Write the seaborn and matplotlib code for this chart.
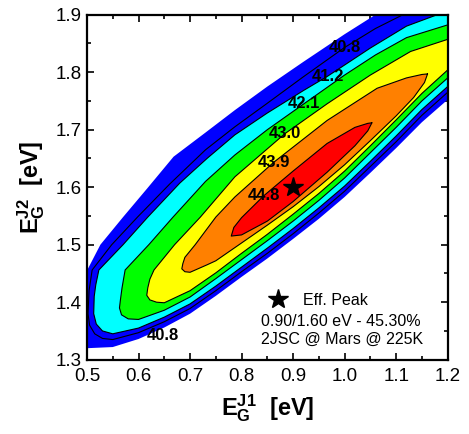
import matplotlib
matplotlib.use('Agg')
import matplotlib.pyplot as plt
from matplotlib.ticker import MultipleLocator, FormatStrFormatter
from matplotlib.lines import Line2D
import seaborn as sns

# peak of the efficiency map
peak_x = 0.90
peak_y = 1.60
peak_eff = 45.30

# contour boundaries: upper / lower branch of each level (eV)
# 39.9 % -> outer edge of blue band (no line drawn)
e399_up_x = [0.50, 0.526, 0.57, 0.617, 0.668, 0.73, 0.787, 0.85, 0.92, 1.00, 1.06, 1.12, 1.21]
e399_up_y = [1.455, 1.500, 1.548, 1.598, 1.653, 1.695, 1.734, 1.775, 1.818, 1.866, 1.900, 1.935, 1.985]
e399_lo_x = [0.50, 0.55, 0.60, 0.65, 0.70, 0.75, 0.80, 0.85, 0.90, 0.95, 1.00, 1.05, 1.10, 1.15, 1.21]
e399_lo_y = [1.320, 1.322, 1.336, 1.356, 1.380, 1.411, 1.444, 1.476, 1.510, 1.545, 1.583, 1.625, 1.668, 1.713, 1.760]

e408_up_x = [0.502, 0.504, 0.51, 0.548, 0.598, 0.66, 0.73, 0.787, 0.85, 0.92, 1.00, 1.06, 1.12, 1.21]
e408_up_y = [1.380, 1.420, 1.456, 1.500, 1.548, 1.605, 1.665, 1.705, 1.746, 1.792, 1.843, 1.876, 1.903, 1.940]
e408_lo_x = [0.502, 0.505, 0.515, 0.53, 0.55, 0.60, 0.65, 0.70, 0.75, 0.80, 0.85, 0.90, 0.95, 1.00, 1.05, 1.10, 1.15, 1.21]
e408_lo_y = [1.380, 1.360, 1.345, 1.337, 1.335, 1.347, 1.366, 1.389, 1.420, 1.453, 1.485, 1.519, 1.555, 1.593, 1.636, 1.679, 1.725, 1.773]

e412_up_x = [0.513, 0.514, 0.517, 0.523, 0.57, 0.618, 0.68, 0.733, 0.787, 0.85, 0.92, 0.967, 1.05, 1.12, 1.18, 1.21]
e412_up_y = [1.380, 1.410, 1.430, 1.456, 1.500, 1.548, 1.607, 1.650, 1.691, 1.729, 1.768, 1.793, 1.842, 1.880, 1.900, 1.910]
e412_lo_x = [0.513, 0.518, 0.53, 0.55, 0.60, 0.65, 0.70, 0.75, 0.80, 0.85, 0.90, 0.95, 1.00, 1.05, 1.10, 1.15, 1.21]
e412_lo_y = [1.380, 1.362, 1.350, 1.345, 1.355, 1.374, 1.397, 1.428, 1.461, 1.494, 1.528, 1.564, 1.602, 1.645, 1.689, 1.735, 1.783]

e421_up_x = [0.563, 0.565, 0.568, 0.574, 0.62, 0.667, 0.73, 0.787, 0.85, 0.921, 1.00, 1.06, 1.12, 1.21]
e421_up_y = [1.390, 1.405, 1.425, 1.456, 1.500, 1.548, 1.610, 1.656, 1.700, 1.745, 1.795, 1.830, 1.860, 1.885]
e421_lo_x = [0.563, 0.567, 0.58, 0.60, 0.65, 0.70, 0.75, 0.80, 0.85, 0.90, 0.95, 1.00, 1.05, 1.10, 1.15, 1.21]
e421_lo_y = [1.390, 1.378, 1.371, 1.370, 1.386, 1.409, 1.441, 1.474, 1.507, 1.541, 1.577, 1.616, 1.660, 1.704, 1.750, 1.798]

e430_up_x = [0.616, 0.618, 0.622, 0.63, 0.67, 0.72, 0.787, 0.884, 0.966, 1.05, 1.128, 1.21]
e430_up_y = [1.412, 1.425, 1.440, 1.456, 1.500, 1.548, 1.618, 1.693, 1.745, 1.795, 1.836, 1.860]
e430_lo_x = [0.616, 0.622, 0.635, 0.65, 0.70, 0.75, 0.80, 0.85, 0.90, 0.95, 1.00, 1.05, 1.10, 1.15, 1.21]
e430_lo_y = [1.412, 1.404, 1.400, 1.399, 1.420, 1.451, 1.485, 1.518, 1.553, 1.589, 1.628, 1.672, 1.717, 1.763, 1.812]

e439_up_x = [0.684, 0.686, 0.69, 0.71, 0.75, 0.787, 0.862, 0.966, 1.063, 1.12, 1.15, 1.161]
e439_up_y = [1.458, 1.467, 1.478, 1.500, 1.548, 1.583, 1.643, 1.716, 1.772, 1.790, 1.796, 1.797]
e439_lo_x = [0.684, 0.69, 0.70, 0.733, 0.75, 0.80, 0.85, 0.90, 0.95, 1.00, 1.05, 1.10, 1.134, 1.155, 1.161]
e439_lo_y = [1.458, 1.453, 1.452, 1.465, 1.472, 1.503, 1.534, 1.566, 1.601, 1.639, 1.681, 1.724, 1.756, 1.782, 1.797]

e448_up_x = [0.780, 0.785, 0.80, 0.843, 0.90, 0.966, 1.02, 1.045, 1.053]
e448_up_y = [1.515, 1.530, 1.547, 1.585, 1.628, 1.676, 1.704, 1.711, 1.712]
e448_lo_x = [0.780, 0.80, 0.85, 0.90, 0.966, 1.02, 1.045, 1.053]
e448_lo_y = [1.515, 1.517, 1.541, 1.575, 1.626, 1.672, 1.698, 1.712]

levels = [39.9, 40.8, 41.2, 42.1, 43.0, 43.9, 44.8]
branches = [
    (e399_up_x, e399_up_y, e399_lo_x, e399_lo_y),
    (e408_up_x, e408_up_y, e408_lo_x, e408_lo_y),
    (e412_up_x, e412_up_y, e412_lo_x, e412_lo_y),
    (e421_up_x, e421_up_y, e421_lo_x, e421_lo_y),
    (e430_up_x, e430_up_y, e430_lo_x, e430_lo_y),
    (e439_up_x, e439_up_y, e439_lo_x, e439_lo_y),
    (e448_up_x, e448_up_y, e448_lo_x, e448_lo_y),
]

# contour labels (value, where it sits on the line)
label_val = [40.8, 41.2, 42.1, 43.0, 43.9, 44.8, 40.8]
label_x = [1.000, 0.967, 0.921, 0.884, 0.862, 0.843, 0.648]
label_y = [1.843, 1.793, 1.745, 1.693, 1.643, 1.586, 1.342]

fill_colors = ['#0000ff', None, '#00ffff', '#00ff00', '#ffff00', '#ff8000', '#ff0000']

sns.set_theme(style='ticks')
plt.rcParams['font.family'] = ['Liberation Sans', 'DejaVu Sans']
plt.rcParams['mathtext.fontset'] = 'custom'
plt.rcParams['mathtext.rm'] = 'Liberation Sans'
plt.rcParams['mathtext.bf'] = 'Liberation Sans:bold'
plt.rcParams['text.color'] = 'black'
plt.rcParams['axes.labelcolor'] = 'black'

fig = plt.figure(figsize=(4.69, 4.34), dpi=100)
ax = fig.add_axes([0.1855, 0.1712, 0.769, 0.795])

for lev, (ux, uy, lx, ly), col in zip(levels, branches, fill_colors):
    if col is None:
        continue
    ax.fill(ux + lx[::-1], uy + ly[::-1], color=col, lw=0, zorder=1)

for lev, (ux, uy, lx, ly) in zip(levels[1:], branches[1:]):
    sns.lineplot(x=ux[::-1] + lx[1:], y=uy[::-1] + ly[1:], sort=False, estimator=None,
                 color='black', lw=0.8, ax=ax, zorder=2)

for v, lx_, ly_ in zip(label_val, label_x, label_y):
    ax.text(lx_, ly_, f'{v:.1f}', ha='center', va='center', fontsize=12,
            fontweight='bold', color='black', zorder=3)

ax.plot([peak_x], [peak_y], marker='*', color='black', ms=15, ls='none', zorder=4)

star = Line2D([], [], marker='*', color='black', ms=15, ls='none')
ax.legend([star], ['Eff. Peak'], loc='center left', bbox_to_anchor=(0.497, 0.173),
          frameon=False, fontsize=11.5, handletextpad=0.8, borderpad=0, handlelength=1.5,
          borderaxespad=0)
ax.text(0.482, 0.112, f'{peak_x:.2f}/{peak_y:.2f} eV - {peak_eff:.2f}%',
        transform=ax.transAxes, fontsize=11.5, va='center', color='black')
ax.text(0.482, 0.058, '2JSC @ Mars @ 225K', transform=ax.transAxes, fontsize=11.5,
        va='center', color='black')

ax.set_xlim(0.5, 1.2)
ax.set_ylim(1.3, 1.9)
ax.xaxis.set_major_locator(MultipleLocator(0.1))
ax.xaxis.set_minor_locator(MultipleLocator(0.05))
ax.yaxis.set_major_locator(MultipleLocator(0.1))
ax.yaxis.set_minor_locator(MultipleLocator(0.05))
ax.xaxis.set_major_formatter(FormatStrFormatter('%.1f'))
ax.yaxis.set_major_formatter(FormatStrFormatter('%.1f'))
ax.tick_params(which='both', direction='in', top=True, right=True, color='black',
               labelcolor='black', labelsize=13.5, width=1.2)
ax.tick_params(which='major', length=5)
ax.tick_params(which='minor', length=3)
ax.tick_params(axis='x', which='major', pad=6)
ax.tick_params(axis='y', which='major', pad=4)
for s in ax.spines.values():
    s.set_linewidth(1.6)
    s.set_color('black')
    s.set_zorder(5)
ax.set_facecolor('white')

ax.set_xlabel(r'$\mathbf{E_G^{J1}}$  [eV]', fontsize=17, fontweight='bold', labelpad=5)
ax.set_ylabel(r'$\mathbf{E_G^{J2}}$  [eV]', fontsize=17, fontweight='bold', labelpad=6)

fig.savefig('out.png', dpi=100, facecolor='white')
